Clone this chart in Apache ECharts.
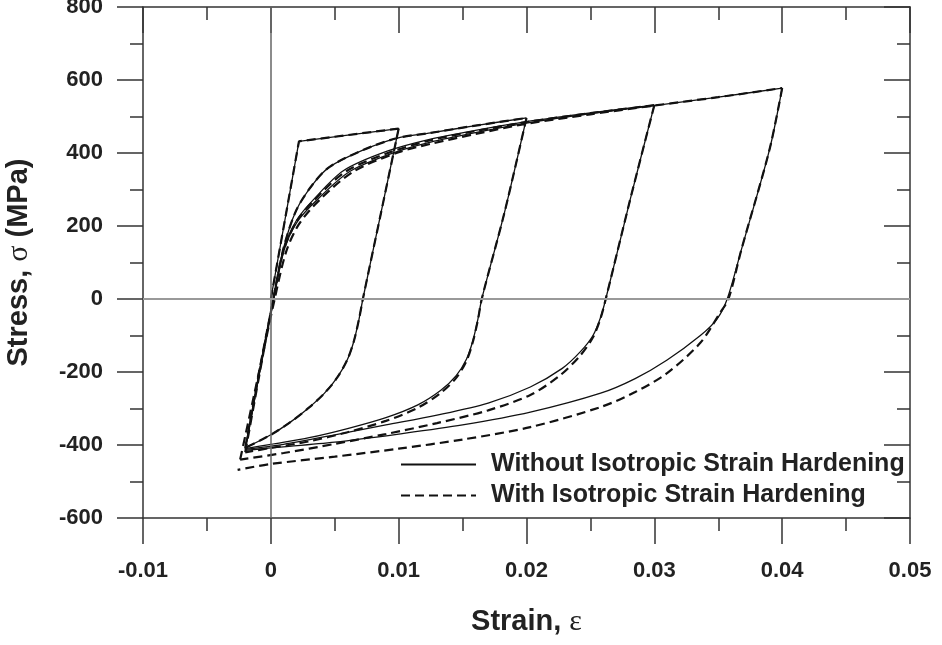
<!DOCTYPE html>
<html><head><meta charset="utf-8">
<script src="https://cdn.jsdelivr.net/npm/echarts@6/dist/echarts.min.js"></script>
<style>html,body{margin:0;padding:0;background:#fff}#c{width:942px;height:645px}</style>
</head><body><div id="c"></div>
<script>
// ---- data (strain, stress MPa) ----
const xTicks = [-0.01, 0, 0.01, 0.02, 0.03, 0.04, 0.05];
const yTicks = [-600, -400, -200, 0, 200, 400, 600, 800];
const nameSolid = 'Without Isotropic Strain Hardening';
const nameDash = 'With Isotropic Strain Hardening';

// Without isotropic strain hardening (solid)
const sLoad0 = [[0,0],[0.0022,432],[0.01,467]];
const sUnload1 = [[0.01,467],[0.0086,233],[0.0072,0],[0.0069,-55],[0.0065,-115],[0.006,-165],[0.0052,-215],[0.0042,-258],[0.003,-297],[0.0015,-338],[0,-372],[-0.002,-408]];
const sReload1 = [[-0.002,-408],[-0.0007,-160],[0.0002,0],[0.001,140],[0.002,244],[0.0033,315],[0.0046,362],[0.0072,408],[0.0099,441],[0.0125,455],[0.016,475],[0.02,496]];
const sUnload2 = [[0.02,496],[0.0183,240],[0.0165,0],[0.0162,-55],[0.0158,-115],[0.0153,-165],[0.0145,-210],[0.0133,-250],[0.0115,-290],[0.009,-325],[0.006,-355],[0.003,-380],[0,-398],[-0.002,-410]];
const sReload2 = [[-0.002,-410],[-0.0007,-165],[0.0002,0],[0.001,135],[0.002,215],[0.0033,271],[0.0057,352],[0.0091,405],[0.0125,438],[0.016,462],[0.02,486],[0.025,510],[0.03,531]];
const sUnload3 = [[0.03,531],[0.0281,271],[0.0262,0],[0.0258,-50],[0.0252,-100],[0.0242,-145],[0.0228,-190],[0.0203,-241],[0.017,-285],[0.013,-318],[0.009,-345],[0.005,-372],[0.001,-398],[-0.002,-412]];
const sReload3 = [[-0.002,-412],[-0.0007,-168],[0.0002,0],[0.001,130],[0.002,208],[0.0036,271],[0.0062,350],[0.0097,402],[0.0125,430],[0.016,456],[0.02,482],[0.025,508],[0.03,530],[0.035,553],[0.04,578]];
const sUnload4 = [[0.04,578],[0.039,408],[0.0368,134],[0.0357,0],[0.0349,-55],[0.0336,-100],[0.031,-167],[0.0285,-218],[0.0258,-258],[0.0203,-310],[0.015,-345],[0.01,-370],[0.005,-392],[0,-408],[-0.002,-415]];

// With isotropic strain hardening (dashed)
const dLoad0 = [[0,0],[0.0022,432],[0.01,467]];
const dUnload1 = [[0.01,467],[0.0086,233],[0.0072,0],[0.0069,-55],[0.0065,-115],[0.006,-165],[0.0052,-215],[0.0042,-258],[0.003,-297],[0.0015,-338],[0,-372],[-0.002,-408]];
const dReload1 = [[-0.002,-408],[-0.0007,-160],[0.0002,0],[0.001,140],[0.002,244],[0.0033,315],[0.0046,362],[0.0072,408],[0.0099,441],[0.0125,455],[0.016,475],[0.02,496]];
const dUnload2 = [[0.02,496],[0.0183,240],[0.0165,0],[0.0162,-57],[0.0158,-118],[0.0153,-170],[0.0145,-216],[0.0133,-257],[0.0115,-298],[0.009,-334],[0.006,-365],[0.003,-390],[0,-408],[-0.002,-420]];
const dReload2 = [[-0.002,-420],[-0.0007,-170],[0.0002,0],[0.001,133],[0.002,212],[0.0034,271],[0.0059,350],[0.0094,403],[0.0125,435],[0.016,460],[0.02,485],[0.025,509],[0.03,531]];
const dUnload3 = [[0.03,531],[0.0281,271],[0.0262,0],[0.0258,-52],[0.0252,-105],[0.0242,-155],[0.0226,-210],[0.0203,-263],[0.017,-305],[0.013,-340],[0.009,-370],[0.005,-397],[0.001,-422],[-0.0024,-440]];
const dReload3 = [[-0.0024,-440],[-0.0008,-180],[0.0003,0],[0.0012,130],[0.0022,205],[0.0038,271],[0.0065,350],[0.01,402],[0.0125,425],[0.016,452],[0.02,480],[0.025,506],[0.03,530],[0.035,553],[0.04,578]];
const dUnload4 = [[0.04,578],[0.039,408],[0.0368,134],[0.0358,0],[0.0351,-40],[0.0336,-120],[0.031,-203],[0.0285,-255],[0.0258,-296],[0.0203,-351],[0.015,-385],[0.01,-410],[0.005,-432],[0,-452],[-0.0026,-468]];

const solidBranches = [sLoad0, sUnload1, sReload1, sUnload2, sReload2, sUnload3, sReload3, sUnload4];
const dashBranches = [dLoad0, dUnload1, dReload1, dUnload2, dReload2, dUnload3, dReload3, dUnload4];

// ---- build ----
const FONT = '"Liberation Sans", Arial, sans-serif';
function mk(name, data, dashed, idx) {
  return {
    type: 'line', name: name, data: data, symbol: 'none', showSymbol: false,
    smooth: idx === 0 ? false : 0.3,
    itemStyle: {color: '#111', opacity: 0},
    lineStyle: dashed ? {color: '#111', width: 2.2, type: [9, 5]} : {color: '#111', width: 1.3, type: 'solid'},
    z: dashed ? 4 : 3, silent: true, animation: false
  };
}
const series = [];
solidBranches.forEach((d, i) => series.push(mk(nameSolid, d, false, i)));
dashBranches.forEach((d, i) => series.push(mk(nameDash, d, true, i)));
series[0].markLine = {
  silent: true, symbol: ['none', 'none'], label: {show: false}, animation: false,
  data: [
    {xAxis: 0, lineStyle: {color: '#666', width: 1.5, type: 'solid'}},
    {yAxis: 0, lineStyle: {color: '#999', width: 2, type: 'solid'}}
  ]
};

const axisLine = {show: true, onZero: false, lineStyle: {color: '#333', width: 1.5}};
const fmtX = v => (Math.abs(v) < 1e-9 ? '0' : String(Math.round(v * 100) / 100));
const labelStyle = {color: '#222', fontFamily: FONT, fontWeight: 'bold', fontSize: 22};
const tick = (inside) => ({show: true, inside: inside, length: 26, lineStyle: {color: '#333', width: 1.5}});
const minor = {show: true, splitNumber: 2, length: 13, lineStyle: {color: '#333', width: 1.5}};
const titleStyle = {color: '#222', fontFamily: FONT, fontWeight: 'bold', fontSize: 29,
  rich: {g: {fontFamily: '"Liberation Serif", serif', fontWeight: 'normal', fontSize: 30, color: '#222'}}};

const option = {
  animation: false,
  backgroundColor: '#fff',
  grid: {left: 143, right: 32, top: 7, bottom: 127, containLabel: false, outerBoundsMode: 'none'},
  legend: {
    data: [nameSolid, nameDash], orient: 'vertical', left: 400, top: 452, padding: 0,
    itemWidth: 75, itemHeight: 14, itemGap: 6, selectedMode: false,
    itemStyle: {opacity: 0},
    textStyle: {color: '#222', fontFamily: FONT, fontWeight: 'bold', fontSize: 25, padding: [0, 0, 0, 10]}
  },
  xAxis: [{
    type: 'value', position: 'bottom', min: xTicks[0], max: xTicks[xTicks.length - 1], interval: 0.01,
    axisLine: axisLine, axisTick: tick(false), minorTick: minor,
    splitLine: {show: false},
    axisLabel: Object.assign({margin: 42, formatter: fmtX}, labelStyle),
    name: 'Strain, {g|ε}', nameLocation: 'middle', nameGap: 89,
    nameTextStyle: titleStyle
  }, {
    type: 'value', position: 'top', min: xTicks[0], max: xTicks[xTicks.length - 1], interval: 0.01,
    axisLine: axisLine, axisTick: tick(true), minorTick: minor,
    splitLine: {show: false}, axisLabel: {show: false}
  }],
  yAxis: [{
    type: 'value', position: 'left', min: yTicks[0], max: yTicks[yTicks.length - 1], interval: 200,
    axisLine: axisLine, axisTick: tick(false), minorTick: minor,
    splitLine: {show: false},
    axisLabel: Object.assign({margin: 40}, labelStyle),
    name: 'Stress, {g|σ} (MPa)', nameLocation: 'middle', nameGap: 109,
    nameTextStyle: titleStyle
  }, {
    type: 'value', position: 'right', min: yTicks[0], max: yTicks[yTicks.length - 1], interval: 200,
    axisLine: axisLine, axisTick: tick(true), minorTick: minor,
    splitLine: {show: false}, axisLabel: {show: false}
  }],
  series: series
};
const chart = echarts.init(document.getElementById('c'), null, {renderer: 'canvas'});
chart.setOption(option);
</script>
</body></html>
